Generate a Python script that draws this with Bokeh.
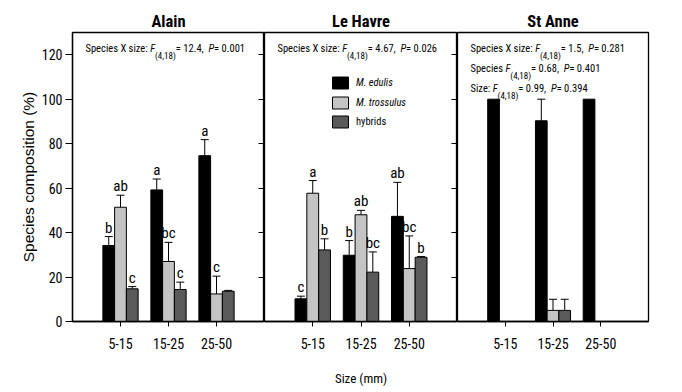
import subprocess
from bokeh.plotting import figure
from bokeh.models import (Range1d, LinearAxis, FixedTicker, Whisker, TeeHead, Grid,
                          ColumnDataSource, Label, Legend, LegendItem)
from bokeh.layouts import row
from bokeh.embed import file_html
from bokeh.resources import INLINE
from bokeh.core.properties import value

# ---------------- data ----------------
sizes = ["5-15", "15-25", "25-50"]
sites = ["Alain", "Le Havre", "St Anne"]
species = ["M. edulis", "M. trossulus", "hybrids"]
y_ticks = [0, 20, 40, 60, 80, 100, 120]

alain_edulis = [34.2, 59.2, 74.6]
alain_edulis_se = [4.0, 4.9, 7.2]
alain_trossulus = [51.4, 27.0, 12.4]
alain_trossulus_se = [5.4, 8.6, 8.0]
alain_hybrids = [14.7, 14.4, 13.6]
alain_hybrids_se = [1.0, 3.3, 0.4]
alain_letters_edulis = ["b", "a", "a"]
alain_letters_trossulus = ["ab", "bc", "c"]
alain_letters_hybrids = ["c", "c", ""]

havre_edulis = [10.2, 29.8, 47.3]
havre_edulis_se = [1.2, 6.6, 15.3]
havre_trossulus = [57.7, 48.0, 23.8]
havre_trossulus_se = [5.7, 2.0, 14.7]
havre_hybrids = [32.2, 22.2, 28.9]
havre_hybrids_se = [5.0, 9.1, 0.3]
havre_letters_edulis = ["c", "b", "ab"]
havre_letters_trossulus = ["a", "ab", "bc"]
havre_letters_hybrids = ["b", "bc", "b"]

anne_edulis = [100.0, 90.3, 100.0]
anne_edulis_se = [0.0, 9.7, 0.0]
anne_trossulus = [0.0, 5.0, 0.0]
anne_trossulus_se = [0.0, 5.0, 0.0]
anne_hybrids = [0.0, 5.0, 0.0]
anne_hybrids_se = [0.0, 5.0, 0.0]
anne_letters = ["", "", ""]

df_text = "(4,18)"
alain_stats = [("Species X size: ", "12.4", "0.001")]
havre_stats = [("Species X size: ", "4.67", "0.026")]
anne_stats = [("Species X size: ", "1.5", "0.281"),
              ("Species ", "0.68", "0.401"),
              ("Size: ", "0.99", "0.394")]

# ---------------- fonts (pick an installed narrow face, measure it) ----------------
CANDIDATES = ["Liberation Sans Narrow", "Arial Narrow", "Roboto Condensed",
              "Noto Sans Condensed", "DejaVu Sans Condensed", "Liberation Sans"]


def list_fonts():
    try:
        out = subprocess.run(["fc-list", "--format", "%{family}|%{style}|%{file}\n"],
                             capture_output=True, text=True, timeout=20).stdout
    except Exception:
        out = ""
    entries = []
    for line in out.splitlines():
        parts = line.split("|")
        if len(parts) != 3:
            continue
        fams = [f.strip() for f in parts[0].split(",")]
        entries.append((fams, parts[1].lower(), parts[2].strip()))
    return entries


def pick_font():
    entries = list_fonts()
    for c in CANDIDATES:
        files = {}
        for fams, st, f in entries:
            if c not in fams:
                continue
            it = ("italic" in st) or ("oblique" in st)
            bd = "bold" in st and "semibold" not in st
            if "light" in st or "thin" in st or "medium" in st or "black" in st or "semibold" in st:
                if not bd:
                    continue
            key = ("bi" if it else "b") if bd else ("i" if it else "r")
            files.setdefault(key, f)
        if "r" in files:
            return c, files
    return "Liberation Sans", {}


FONT, FILES = pick_font()
SANS = "Liberation Sans"

try:
    from PIL import ImageFont
    _cache = {}

    def tw(s, size, kind="r"):
        f = FILES.get(kind) or FILES.get("r")
        if f is None:
            raise RuntimeError
        if f not in _cache:
            _cache[f] = ImageFont.truetype(f, 200)
        return _cache[f].getlength(s) / 200.0 * size
    tw("a", 10)
except Exception:
    AW = {' ': 278, '(': 333, ')': 333, ',': 278, '.': 278, ':': 278, '=': 584, '-': 333,
          'F': 611, 'P': 667, 'S': 667, 'X': 667, 'M': 833, 'L': 611, 'H': 722, 'A': 667,
          'a': 556, 'c': 500, 'e': 556, 'i': 222, 'p': 556, 's': 500, 'z': 500, 'l': 222,
          'r': 333, 'v': 500, 'n': 556, 'd': 556, 'u': 556, 'o': 556, 't': 278, 'b': 556,
          'h': 556, 'y': 500, 'm': 833}
    fac = 0.82 if "Narrow" in FONT else 1.0

    def tw(s, size, kind="r"):
        return sum(AW.get(c, 556) for c in s) * fac * size / 1000.0


def fit(text, target, kind="r", lo=8, hi=22):
    s = target / max(tw(text, 1.0, kind), 1e-6)
    return max(lo, min(hi, round(s * 2) / 2))


TICK_FS = fit("15-25", 31)
LETTER_FS = fit("ab", 14.5)
TITLE_FS = fit("Le Havre", 58, "b")
LEG_FS = fit("M. edulis", 37, "i")
XLAB_FS = fit("Size (mm)", 52)
SUB_RATIO = 0.85


def stat_parts(prefix, fval, pval, main, sub):
    return [(prefix, "normal", main, 0), ("F", "italic", main, 0),
            (df_text, "normal", sub, -7), (" = " + fval + ", ", "normal", main, 0),
            ("P", "italic", main, 0), (" = " + pval, "normal", main, 0)]


def stat_width(prefix, fval, pval, main):
    tot = 0.0
    for text, style, fs, _ in stat_parts(prefix, fval, pval, main, main * SUB_RATIO):
        tot += tw(text, fs, "i" if style == "italic" else "r")
    return tot


STAT_FS = max(8, min(14, round(165 / stat_width(*alain_stats[0], 1.0) * 2) / 2))

# ---------------- style ----------------
colors = ["#000000", "#c4c4c4", "#5a5a5a"]
offsets = [-0.245, 0.0, 0.245]
BAR_W = 0.245
H = 392
TOP = 32
BOTTOM = 71
FRAME_H = H - TOP - BOTTOM


def add_stats(p, x0, y0, lines):
    main = STAT_FS
    sub = round(main * SUB_RATIO * 2) / 2
    for k, (prefix, fval, pval) in enumerate(lines):
        y = y0 - 20 * k
        xo = 0.0
        for text, style, fs, yo in stat_parts(prefix, fval, pval, main, sub):
            p.add_layout(Label(x=x0, y=y, x_units="screen", y_units="screen",
                               x_offset=xo, y_offset=yo, text=text,
                               text_font=FONT, text_font_style=style,
                               text_font_size=f"{fs}px", text_color="black",
                               text_baseline="alphabetic", text_align="left"))
            xo += tw(text, fs, "i" if style == "italic" else "r")


def panel(site, vals, ses, letters, stats, frame_w, left, right,
          show_y=False, right_ticks=False, xlabel=None, legend=False):
    p = figure(width=left + frame_w + right, height=H, x_range=Range1d(0, 4),
               y_range=Range1d(0, 130), output_backend="svg", toolbar_location=None,
               y_axis_location="left" if show_y else None, title=site,
               min_border_left=left, min_border_right=right,
               min_border_top=TOP, min_border_bottom=BOTTOM)
    p.title.align = "center"
    p.title.text_font = FONT
    p.title.text_font_style = "bold"
    p.title.text_font_size = f"{TITLE_FS}px"
    p.title.text_color = "black"
    p.title.standoff = 3
    p.xgrid.visible = False
    p.ygrid.visible = False
    p.outline_line_color = "black"
    p.outline_line_width = 1.3
    p.background_fill_color = "white"
    p.border_fill_color = "white"

    xa = p.xaxis[0]
    xa.ticker = FixedTicker(ticks=[1, 2, 3])
    xa.major_label_overrides = {i + 1: s for i, s in enumerate(sizes)}
    xa.major_tick_in = 0
    xa.major_tick_out = 5
    xa.minor_tick_line_color = None
    xa.axis_line_width = 1.5
    xa.axis_line_color = "black"
    xa.major_tick_line_color = "black"
    xa.major_label_text_font = FONT
    xa.major_label_text_font_size = f"{TICK_FS}px"
    xa.major_label_text_color = "black"
    xa.major_label_standoff = 11
    if xlabel:
        xa.axis_label = xlabel
        xa.axis_label_text_font = FONT
        xa.axis_label_text_font_size = f"{XLAB_FS}px"
        xa.axis_label_text_font_style = "normal"
        xa.axis_label_text_color = "black"
        xa.axis_label_standoff = 19

    if show_y:
        ya = p.yaxis[0]
        ya.ticker = FixedTicker(ticks=y_ticks)
        ya.major_tick_in = 0
        ya.major_tick_out = 7
        ya.minor_tick_line_color = None
        ya.axis_line_color = "black"
        ya.axis_line_width = 1.3
        ya.major_tick_line_color = "black"
        ya.major_label_text_font = FONT
        ya.major_label_text_font_size = f"{TICK_FS}px"
        ya.major_label_text_color = "black"
        ya.major_label_standoff = 3
        ya.axis_label = "Species composition (%)"
        ya.axis_label_text_font = SANS
        ya.axis_label_text_font_size = "15.5px"
        ya.axis_label_text_font_style = "normal"
        ya.axis_label_text_color = "black"
        ya.axis_label_standoff = 2

    if right_ticks:
        tick_len = 6 * 4.0 / frame_w
        if "cross_bounds" in Grid.properties():
            p.add_layout(Grid(dimension=1, ticker=FixedTicker(ticks=y_ticks),
                              cross_bounds=(4 - tick_len, 4), grid_line_color="black",
                              grid_line_width=1))
        else:
            ra = LinearAxis(ticker=FixedTicker(ticks=y_ticks), major_tick_in=6,
                            major_tick_out=0, minor_tick_line_color=None,
                            major_label_text_font_size="1px", major_label_text_alpha=0,
                            major_label_standoff=0, axis_line_color="black",
                            major_tick_line_color="black")
            p.add_layout(ra, "right")

    renderers = []
    for k in range(3):
        xs = [i + 1 + offsets[k] for i in range(3)]
        src = ColumnDataSource(dict(x=xs, top=vals[k]))
        r = p.vbar(x="x", top="top", width=BAR_W, source=src, fill_color=colors[k],
                   line_color="black", line_width=1)
        renderers.append(r)
        wx = [x for x, s in zip(xs, ses[k]) if s > 0]
        wl = [v for v, s in zip(vals[k], ses[k]) if s > 0]
        wu = [v + s for v, s in zip(vals[k], ses[k]) if s > 0]
        if wx:
            wsrc = ColumnDataSource(dict(x=wx, lower=wl, upper=wu))
            p.add_layout(Whisker(source=wsrc, base="x", lower="lower", upper="upper",
                                 dimension="height", line_color="black", line_width=1,
                                 upper_head=TeeHead(size=8, line_color="black", line_width=1),
                                 lower_head=None))
        keep = [i for i in range(3) if letters[k][i]]
        if keep:
            lsrc = ColumnDataSource(dict(x=[xs[i] for i in keep],
                                         y=[vals[k][i] + ses[k][i] for i in keep],
                                         t=[letters[k][i] for i in keep]))
            p.text(x="x", y="y", text="t", source=lsrc, text_align="center",
                   text_baseline="alphabetic", y_offset=-9, text_font=value(FONT),
                   text_font_size=f"{LETTER_FS}px", text_color="#000000")

    add_stats(p, 13, FRAME_H - 16, stats)

    if legend:
        leg1 = Legend(items=[LegendItem(label=species[0], renderers=[renderers[0]]),
                             LegendItem(label=species[1], renderers=[renderers[1]])],
                      location=(66, 211), label_text_font_style="italic")
        leg2 = Legend(items=[LegendItem(label=species[2], renderers=[renderers[2]])],
                      location=(66, 192), label_text_font_style="normal")
        for lg in (leg1, leg2):
            lg.glyph_width = 20
            lg.glyph_height = 15
            lg.label_height = 15
            lg.spacing = 5
            lg.padding = 0
            lg.margin = 0
            lg.border_line_color = None
            lg.background_fill_alpha = 0
            lg.label_standoff = 6
            lg.label_text_font = FONT
            lg.label_text_font_size = f"{LEG_FS}px"
            lg.label_text_color = "black"
            p.add_layout(lg)
    return p


p1 = panel(sites[0], [alain_edulis, alain_trossulus, alain_hybrids],
           [alain_edulis_se, alain_trossulus_se, alain_hybrids_se],
           [alain_letters_edulis, alain_letters_trossulus, alain_letters_hybrids],
           alain_stats, frame_w=192, left=72, right=0, show_y=True, right_ticks=True)
p2 = panel(sites[1], [havre_edulis, havre_trossulus, havre_hybrids],
           [havre_edulis_se, havre_trossulus_se, havre_hybrids_se],
           [havre_letters_edulis, havre_letters_trossulus, havre_letters_hybrids],
           havre_stats, frame_w=193, left=0, right=0, right_ticks=True,
           xlabel="Size (mm)", legend=True)
p3 = panel(sites[2], [anne_edulis, anne_trossulus, anne_hybrids],
           [anne_edulis_se, anne_trossulus_se, anne_hybrids_se],
           [anne_letters, anne_letters, anne_letters],
           anne_stats, frame_w=191, left=0, right=10)

layout = row(p1, p2, p3, spacing=0)
open("out.html", "w").write(file_html(layout, INLINE))
